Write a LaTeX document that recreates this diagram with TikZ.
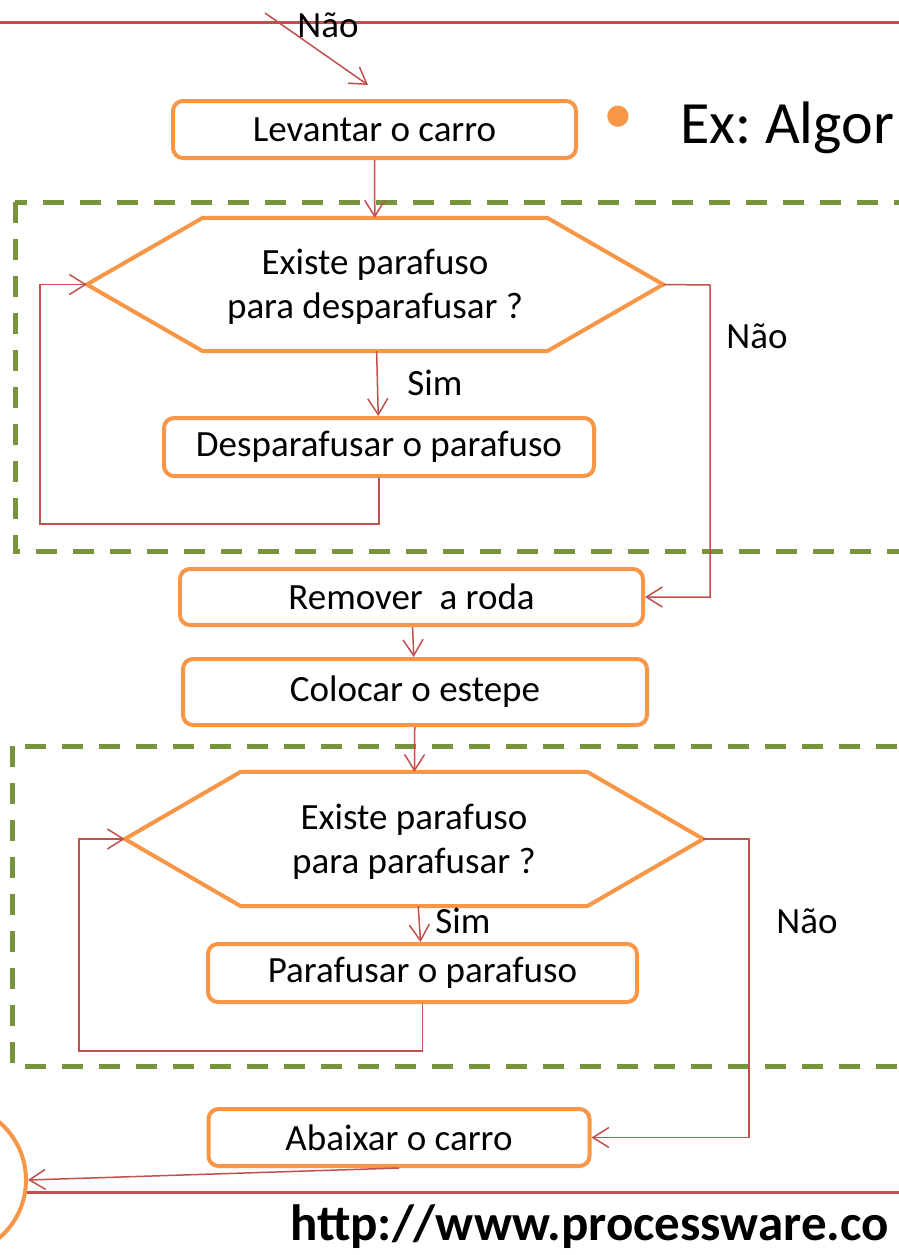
\documentclass[tikz,border=0pt]{standalone}
\usepackage{fontspec}
\setmainfont{Carlito}
\usetikzlibrary{arrows.meta}
\definecolor{laranja}{HTML}{F79646}
\definecolor{vermelho}{HTML}{C0504D}
\definecolor{verde}{HTML}{77933C}

\begin{document}
\begin{tikzpicture}[x=1pt,y=-1pt,
  passo/.style={draw=laranja, line width=4pt, rounded corners=10pt, inner sep=0pt, font=\fontsize{37}{44}\selectfont},
  decisao/.style={inner sep=0pt, align=center, minimum width=576pt, minimum height=133pt, font=\fontsize{37}{44}\selectfont},
  borda/.style={draw=laranja, line width=4pt, line join=miter},
  rotulo/.style={inner sep=0pt, font=\fontsize{37}{44}\selectfont},
  seta/.style={draw=vermelho, line width=1.5pt, -{Straight Barb[length=16pt,width=20pt]}},
  grupo/.style={draw=verde, line width=5pt, dash pattern=on 21pt off 16pt}]
\useasboundingbox (0,0) rectangle (899,1255);
\clip (0,0) rectangle (899,1255);

% loops
\draw[grupo] (15,202) rectangle (930,551);
\draw[grupo] (12,746) rectangle (930,1066);

\draw[vermelho, line width=3pt] (0,23) -- (899,23);
\draw[vermelho, line width=3pt] (26,1192) -- (899,1192);

\node[passo, minimum width=403pt, minimum height=57pt] (lev) at (374.5,129.5) {Levantar o carro};
\node[decisao] (h1) at (375,284.5) {\strut Existe parafuso\\para desparafusar ?};
\node[passo, minimum width=430pt, minimum height=58pt] (desp) at (379,447) {Desparafusar o parafuso};
\node[passo, minimum width=463pt, minimum height=56pt] (rem) at (411.5,597) {Remover~ a roda};
\node[passo, minimum width=464pt, minimum height=66pt] (col) at (415,692) {Colocar o estepe};
\node[decisao, minimum width=578pt, minimum height=134pt] (h2) at (414,839) {\strut Existe parafuso\\para parafusar ?};
\node[passo, minimum width=429pt, minimum height=58pt] (paraf) at (422.5,973) {Parafusar o parafuso};
\node[passo, minimum width=381pt, minimum height=57pt] (abx) at (399,1137.5) {Abaixar o carro};
\node[draw=laranja, line width=4pt, circle, minimum size=152pt] (fim) at (-50,1180) {};

\foreach \h in {h1,h2}
  \draw[borda] (\h.west) -- ([xshift=116pt]\h.north west) -- ([xshift=-116pt]\h.north east)
    -- (\h.east) -- ([xshift=-116pt]\h.south east) -- ([xshift=116pt]\h.south west) -- cycle;

\node[rotulo, text=laranja, font=\fontsize{60}{60}\selectfont] (ponto) at (618,120) {•};
\node[rotulo, anchor=base west, font=\fontsize{60}{60}\selectfont] (titulo) at (680,143) {Ex:\ Algor};
\node[rotulo, anchor=base west, font=\fontsize{51}{52}\selectfont\bfseries] (url) at (290,1240) {http://www.processware.co};

\coordinate (inicio) at (265,13);
\coordinate (chegada) at (368,85);
\coordinate (laco1) at (40,524);
\coordinate (nao1) at (710,285);
\coordinate (laco2) at (79,1051);
\coordinate (nao2) at (749,839);

\draw[seta] (inicio) -- (chegada);
\draw[seta] (lev) -- (h1);
\draw[seta] (h1) -- (desp);
\draw[seta] (desp.south) |- (laco1) |- (h1.west);
\draw[seta] (h1.east) -- (nao1) |- (rem.east);
\draw[seta] (rem) -- (col);
\draw[seta] (col) -- (h2);
\draw[seta] (h2) -- (paraf);
\draw[seta] (paraf.south) |- (laco2) |- (h2.west);
\draw[seta] (h2.east) -- (nao2) |- (abx.east);
\draw[seta] (abx.south) -- (fim.east);

\node[rotulo] (nao0) at (328,25) {Não};
\node[rotulo] (sim1) at (435,383) {Sim};
\node[rotulo] (naoa) at (757,336) {Não};
\node[rotulo] (sim2) at (463,921) {Sim};
\node[rotulo] (naob) at (807,921) {Não};
\end{tikzpicture}
\end{document}
